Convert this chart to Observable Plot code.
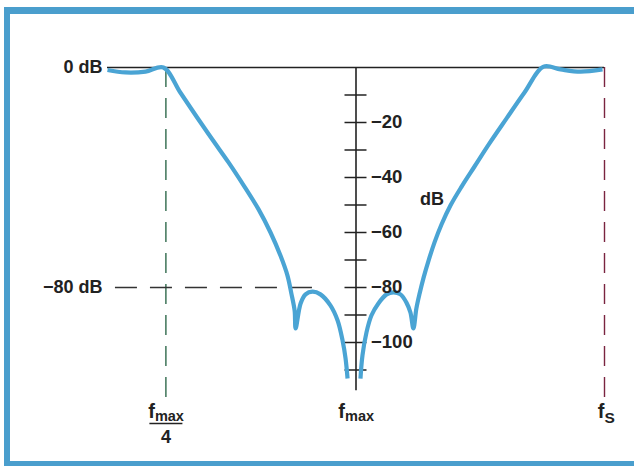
<!DOCTYPE html>
<html><head><meta charset="utf-8">
<script src="https://cdn.jsdelivr.net/npm/d3@7"></script>
<script src="https://cdn.jsdelivr.net/npm/@observablehq/plot@0.6"></script>
<style>
html,body{margin:0;padding:0;background:#fff;overflow:hidden;}
#wrap{position:relative;width:634px;height:466px;overflow:hidden;background:#fff;}
#frame{position:absolute;left:4px;top:7px;width:800px;height:460px;box-sizing:border-box;border-style:solid;border-color:#4a9ecd;border-width:7px 0 6px 6px;}
#chart{position:absolute;left:0;top:0;width:634px;height:466px;overflow:hidden;}
#chart svg{display:block;max-width:none;}
#mask{position:absolute;left:620px;top:14px;width:30px;height:447px;background:#fff;z-index:5;}
</style></head><body>
<div id="wrap"><div id="frame"></div><div id="chart"></div><div id="mask"></div></div>
<script>
// ---- data (frequency in units of fmax, gain in dB) ----
const lowerFreq = [0, 0.072, 0.153, 0.225, 0.293, 0.358, 0.422, 0.487, 0.551, 0.608, 0.656, 0.696, 0.724, 0.740, 0.753, 0.757, 0.777, 0.797, 0.825, 0.857, 0.897, 0.926, 0.946, 0.958, 0.966];
const lowerDb   = [-0.9, -1.8, -1.5, 0, -9.1, -17.8, -26.2, -34.5, -43.3, -51.6, -60.0, -68.4, -75.6, -82.2, -88.4, -94.9, -85.8, -82.5, -81.5, -82.5, -86.5, -92.0, -99.3, -105.8, -113.1];
const upperFreq = [1.018, 1.026, 1.042, 1.062, 1.090, 1.123, 1.151, 1.179, 1.203, 1.219, 1.231, 1.243, 1.256, 1.272, 1.292, 1.316, 1.344, 1.380, 1.425, 1.477, 1.537, 1.606, 1.678, 1.755, 1.823, 1.903, 1.992];
const upperDb   = [-113.1, -104.7, -96.4, -90.2, -85.8, -82.5, -81.8, -82.5, -85.5, -89.1, -94.9, -87.6, -82.2, -76.4, -70.2, -63.6, -57.1, -50.2, -43.3, -36.0, -27.6, -18.5, -9.1, 0.3, -0.7, -1.5, -0.7];

const tickDb = [-10, -20, -30, -40, -50, -60, -70, -80, -90, -100, -110];
const labeledDb = [-20, -40, -60, -80, -100];
const axisFreq = 1;          // fmax
const axisBottomDb = -117.5;
const quarterFreq = 0.235;   // fmax/4 marker
const fsFreq = 2;            // fs marker
const floorDb = -120;
const refDb = -80;
const refFrom = 0.032, refTo = 0.86;
const leftLabels = [{db: 0, text: "0 dB"}, {db: -80, text: "−80 dB"}];

const curve = [
  ...lowerFreq.map((f, i) => ({f, db: lowerDb[i], seg: "lower"})),
  ...upperFreq.map((f, i) => ({f, db: upperDb[i], seg: "upper"}))
];

const ink = "#222";
const blue = "#4aa4d4";
const font = "'Liberation Sans', Arial, Helvetica, sans-serif";

const plot = Plot.plot({
  width: 634, height: 466,
  marginTop: 67, marginBottom: 69, marginLeft: 107, marginRight: 30,
  x: {domain: [0, 2], axis: null},
  y: {domain: [floorDb, 0], axis: null},
  style: {fontFamily: font, background: "transparent", overflow: "visible"},
  marks: [
    Plot.ruleX([quarterFreq], {x: d => d, y1: 0, y2: floorDb, stroke: "#2f6a4c", strokeWidth: 1.4, strokeDasharray: "20,11"}),
    Plot.ruleX([fsFreq], {x: d => d, y1: 0, y2: floorDb, stroke: "#7a2440", strokeWidth: 1.4, strokeDasharray: "20,11"}),
    Plot.ruleY([refDb], {y: d => d, x1: refFrom, x2: refTo, stroke: "#333", strokeWidth: 1.3, strokeDasharray: "22,13"}),
    Plot.ruleY([0], {y: d => d, x1: 0, x2: fsFreq, stroke: ink, strokeWidth: 1.5}),
    Plot.ruleX([axisFreq], {x: d => d, y1: 0, y2: axisBottomDb, stroke: ink, strokeWidth: 1.6}),
    Plot.ruleY(tickDb, {y: d => d, x1: axisFreq, x2: axisFreq, insetLeft: -11, insetRight: -11, stroke: ink, strokeWidth: 1.5}),
    Plot.line(curve, {x: "f", y: "db", z: "seg", stroke: blue, strokeWidth: 4.2, curve: "catmull-rom", strokeLinecap: "butt"}),
    Plot.text(labeledDb, {x: () => axisFreq, y: d => d, text: d => "−" + (-d), dx: 15, textAnchor: "start", fontSize: 18.5, fontWeight: "bold", fill: ink}),
    Plot.text(["dB"], {x: () => axisFreq, y: () => -48, text: d => d, dx: 64, textAnchor: "start", fontSize: 18, fontWeight: "bold", fill: ink}),
    Plot.text(leftLabels, {x: () => 0, y: "db", text: "text", dx: -5, textAnchor: "end", fontSize: 18, fontWeight: "bold", fill: ink}),
    // x labels: f_max/4 and f_max
    Plot.text([quarterFreq, axisFreq], {x: d => d, text: () => "f", frameAnchor: "bottom", lineAnchor: "bottom", dy: 20, dx: -11, textAnchor: "end", fontSize: 20, fontWeight: "bold", fill: ink}),
    Plot.text([quarterFreq, axisFreq], {x: d => d, text: () => "max", frameAnchor: "bottom", lineAnchor: "bottom", dy: 23, dx: -11, textAnchor: "start", fontSize: 14.5, fontWeight: "bold", fill: ink}),
    Plot.ruleY([floorDb], {y: d => d, x1: quarterFreq, x2: quarterFreq, insetLeft: -16, insetRight: -17, dy: 26, stroke: ink, strokeWidth: 1.4}),
    Plot.text([quarterFreq], {x: d => d, text: () => "4", frameAnchor: "bottom", lineAnchor: "bottom", dy: 45, textAnchor: "middle", fontSize: 18, fontWeight: "bold", fill: ink}),
    // f_S
    Plot.text([fsFreq], {x: d => d, text: () => "f", frameAnchor: "bottom", lineAnchor: "bottom", dy: 20, dx: 0, textAnchor: "end", fontSize: 20, fontWeight: "bold", fill: ink}),
    Plot.text([fsFreq], {x: d => d, text: () => "S", frameAnchor: "bottom", lineAnchor: "bottom", dy: 25, dx: 0, textAnchor: "start", fontSize: 15.5, fontWeight: "bold", fill: ink})
  ]
});
document.getElementById("chart").appendChild(plot);
</script>
</body></html>
